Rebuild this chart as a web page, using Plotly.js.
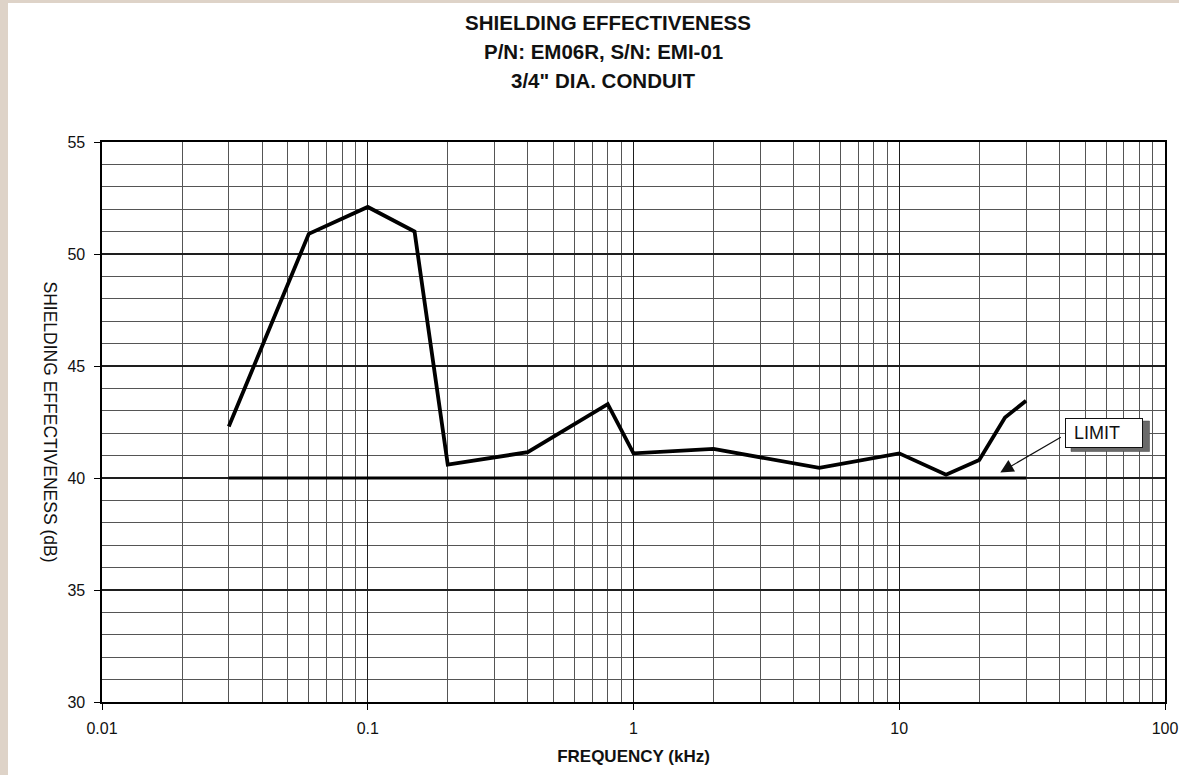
<!DOCTYPE html>
<html>
<head>
<meta charset="utf-8">
<script src="https://cdn.plot.ly/plotly-3.0.1.min.js"></script>
<style>
  html, body { margin: 0; padding: 0; background: #ded3c8; }
  #chart { position: absolute; left: 8px; top: 3px; width: 1171px; height: 772px; background: #ffffff; }
</style>
</head>
<body>
<div id="chart"></div>
<script>
// ---- data ----
const freqKHz = [0.03, 0.06, 0.1, 0.15, 0.2, 0.4, 0.8, 1, 2, 5, 10, 15, 20, 25, 30];
const shieldingDB = [42.3, 50.9, 52.1, 51.0, 40.6, 41.15, 43.3, 41.1, 41.3, 40.45, 41.1, 40.15, 40.8, 42.7, 43.45];
const limitFreq = [0.03, 30];
const limitDB = [40, 40];
const titleLines = ["SHIELDING EFFECTIVENESS", "P/N: EM06R, S/N: EMI-01", "3/4\" DIA. CONDUIT"];
const xTitle = "FREQUENCY (kHz)";
const yTitle = "SHIELDING EFFECTIVENESS (dB)";
const limitLabel = "LIMIT";
const limitArrowAt = [24, 40.25];
const xTickVals = [0.01, 0.1, 1, 10, 100];
const xTickText = ["0.01", "0.1", "1", "10", "100"];

// ---- geometry ----
const W = 1171, H = 772, ML = 94, MR = 14, MT = 139, MB = 73;
const plotW = W - ML - MR, plotH = H - MT - MB;
const OX = 8, OY = 3; // div offset in page
function px2paperX(imgX) { return (imgX - OX - ML) / plotW; }
function px2paperY(imgY) { return 1 - (imgY - OY - MT) / plotH; }

const FONT = "Liberation Sans, Arial, sans-serif";

const traces = [
  {
    x: limitFreq, y: limitDB, type: "scatter", mode: "lines",
    line: { color: "#000000", width: 3.2 }, name: "LIMIT", hoverinfo: "skip"
  },
  {
    x: freqKHz, y: shieldingDB, type: "scatter", mode: "lines",
    line: { color: "#000000", width: 3.8 }, name: "SE"
  }
];

const layout = {
  width: W, height: H,
  margin: { l: ML, r: MR, t: MT, b: MB },
  paper_bgcolor: "#ffffff", plot_bgcolor: "#ffffff",
  showlegend: false,
  font: { family: FONT, color: "#111111" },
  title: {
    text: titleLines[0],
    font: { family: FONT, size: 20.5, weight: "bold", color: "#111111" },
    xref: "container", x: 600 / W, xanchor: "center",
    yref: "container", y: 1 - 20 / H, yanchor: "middle"
  },
  xaxis: {
    type: "log", range: [-2, 2],
    tickvals: xTickVals, ticktext: xTickText,
    ticks: "outside", ticklen: 6, tickcolor: "#000", tickwidth: 1,
    tickfont: { family: FONT, size: 16, color: "#111" },
    ticklabelstandoff: 5,
    showgrid: true, gridcolor: "#1e1e1e", gridwidth: 1.3,
    minor: { dtick: "D1", showgrid: true, gridcolor: "#555555", gridwidth: 1 },
    showline: true, linecolor: "#000", linewidth: 1.6, mirror: true,
    zeroline: false,
    title: { text: xTitle, font: { family: FONT, size: 17, weight: "bold", color: "#111" }, standoff: 14 }
  },
  yaxis: {
    range: [30, 55], dtick: 5, tick0: 30,
    ticks: "outside", ticklen: 6, tickcolor: "#000", tickwidth: 1,
    tickfont: { family: FONT, size: 16, color: "#111" },
    ticklabelstandoff: 6,
    showgrid: true, gridcolor: "#1e1e1e", gridwidth: 1.3,
    minor: { dtick: 1, showgrid: true, gridcolor: "#555555", gridwidth: 1 },
    showline: true, linecolor: "#000", linewidth: 1.6, mirror: true,
    zeroline: false
  },
  shapes: [
    { // drop shadow of the LIMIT label box
      type: "rect", xref: "paper", yref: "paper", layer: "above",
      x0: px2paperX(1071), x1: px2paperX(1149.5), y0: px2paperY(451.5), y1: px2paperY(421),
      fillcolor: "#6a6a6a", line: { color: "#444", width: 0.5 }
    }
  ],
  annotations: [
    { text: titleLines[1], xref: "paper", yref: "paper",
      x: (595 - ML) / plotW, y: 1 - (49 - MT) / plotH, xanchor: "center", yanchor: "middle",
      showarrow: false, font: { family: FONT, size: 20.5, weight: "bold", color: "#111" } },
    { text: titleLines[2], xref: "paper", yref: "paper",
      x: (595 - ML) / plotW, y: 1 - (78 - MT) / plotH, xanchor: "center", yanchor: "middle",
      showarrow: false, font: { family: FONT, size: 20.5, weight: "bold", color: "#111" } },
    { text: yTitle, xref: "paper", yref: "paper",
      x: (42 - ML) / plotW, y: 1 - (418.5 - MT) / plotH, xanchor: "center", yanchor: "middle",
      textangle: 90, showarrow: false, font: { family: FONT, size: 17.5, color: "#111" } },
    { // arrow pointing to the limit line
      text: " ", xref: "x", yref: "y",
      x: Math.log10(limitArrowAt[0]), y: limitArrowAt[1],
      showarrow: true, arrowhead: 2, arrowsize: 2.2, arrowwidth: 1.2, arrowcolor: "#111",
      ax: 62, ay: -36, standoff: 0, startstandoff: 0, font: { size: 1 }
    },
    { // LIMIT label box
      text: "\u00a0" + limitLabel, xref: "x", yref: "y",
      x: Math.log10(limitArrowAt[0]), y: limitArrowAt[1],
      xshift: 104, yshift: 39, showarrow: false,
      width: 70, height: 22, align: "left", valign: "middle",
      bgcolor: "#ffffff", bordercolor: "#111", borderwidth: 1, borderpad: 3,
      font: { family: FONT, size: 18, color: "#111" }
    }
  ]
};

Plotly.newPlot("chart", traces, layout, { displayModeBar: false, staticPlot: true });
</script>
</body>
</html>
